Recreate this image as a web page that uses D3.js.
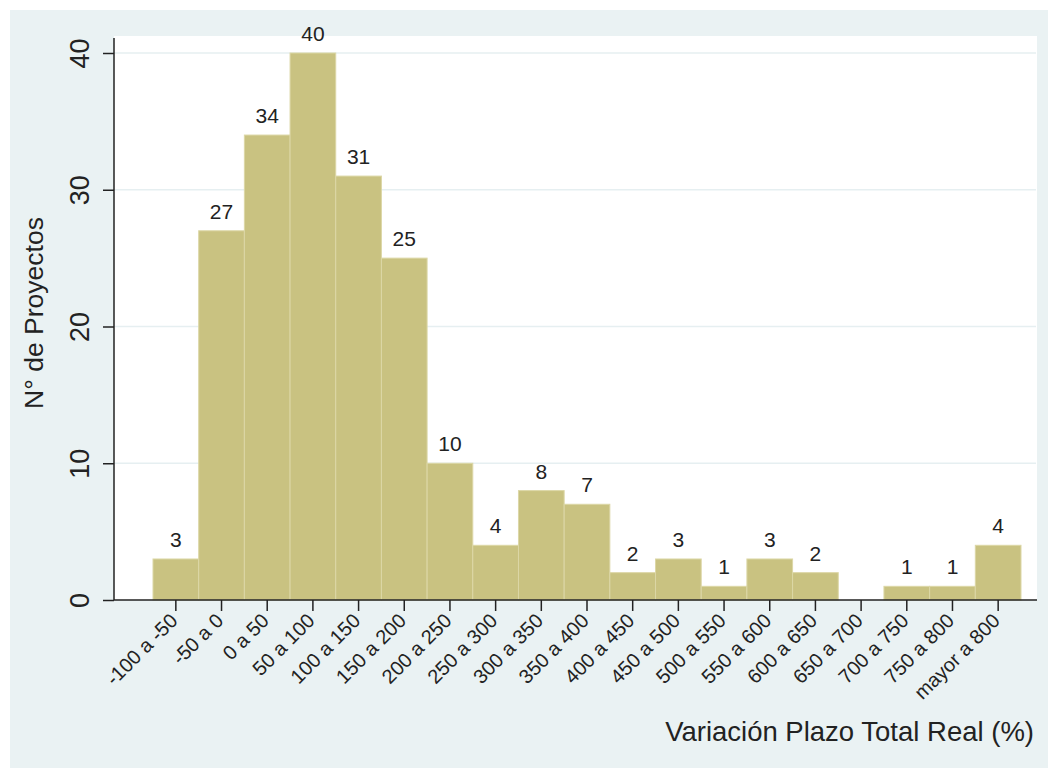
<!DOCTYPE html>
<html>
<head>
<meta charset="utf-8">
<script src="https://cdn.jsdelivr.net/npm/d3@7"></script>
<style>
  body { margin: 0; background: #ffffff; }
  text { font-family: "Liberation Sans", Arial, sans-serif; fill: #222; }
</style>
</head>
<body>
<div id="container"></div>
<script>
// data
const categories = ["-100 a -50", "-50 a 0", "0 a 50", "50 a 100", "100 a 150", "150 a 200",
                    "200 a 250", "250 a 300", "300 a 350", "350 a 400", "400 a 450", "450 a 500",
                    "500 a 550", "550 a 600", "600 a 650", "650 a 700", "700 a 750", "750 a 800",
                    "mayor a 800"];
const counts = [3, 27, 34, 40, 31, 25, 10, 4, 8, 7, 2, 3, 1, 3, 2, 0, 1, 1, 4];
const yTicks = [0, 10, 20, 30, 40];

const dataset = categories.map((c, i) => ({ cat: c, n: counts[i] }));

// set dimensions
const w = 1048;
const h = 768;
const plot = { left: 114, right: 1037, top: 36, bottom: 600 };

const svg = d3.select("#container")
              .append("svg")
              .attr("width", w)
              .attr("height", h);

// outer background
svg.append("rect")
   .attr("x", 10)
   .attr("y", 10)
   .attr("width", w - 10)
   .attr("height", h - 10)
   .attr("fill", "#eaf2f3");

// plot region
svg.append("rect")
   .attr("x", plot.left)
   .attr("y", plot.top)
   .attr("width", plot.right - plot.left)
   .attr("height", plot.bottom - plot.top)
   .attr("fill", "#ffffff");

// scales
const xScale = d3.scaleBand()
                 .domain(categories)
                 .range([153, 1021])
                 .padding(0);
const yScale = d3.scaleLinear()
                 .domain([0, 40])
                 .range([plot.bottom, 53]);

// gridlines
svg.selectAll("line.grid")
   .data(yTicks.filter(d => d > 0))
   .enter()
   .append("line")
   .attr("class", "grid")
   .attr("x1", plot.left)
   .attr("x2", plot.right - 1)
   .attr("y1", d => yScale(d))
   .attr("y2", d => yScale(d))
   .attr("stroke", "#e6eff1")
   .attr("stroke-width", 1.5);

// bars
svg.selectAll("rect.bar")
   .data(dataset)
   .enter()
   .append("rect")
   .attr("class", "bar")
   .attr("x", d => xScale(d.cat))
   .attr("y", d => yScale(d.n))
   .attr("width", xScale.bandwidth())
   .attr("height", d => yScale(0) - yScale(d.n))
   .attr("fill", "#c9c281")
   .attr("stroke", "#dcd7a6")
   .attr("stroke-width", 1);

// bar labels
svg.selectAll("text.count")
   .data(dataset.filter(d => d.n > 0))
   .enter()
   .append("text")
   .attr("class", "count")
   .attr("x", d => xScale(d.cat) + xScale.bandwidth() / 2)
   .attr("y", d => yScale(d.n) - 12)
   .attr("text-anchor", "middle")
   .style("font-size", "21px")
   .text(d => d.n);

// axes
const xAxis = d3.axisBottom(xScale).tickSize(11).tickSizeOuter(0);
const yAxis = d3.axisLeft(yScale).tickValues(yTicks).tickSize(11).tickSizeOuter(0);

const gx = svg.append("g")
              .attr("transform", "translate(0, " + plot.bottom + ")")
              .call(xAxis);
gx.select(".domain").remove();
gx.selectAll(".tick line").attr("stroke", "#222").attr("stroke-width", 1.5);
gx.selectAll(".tick text")
  .attr("y", null)
  .attr("dy", null)
  .attr("transform", "translate(3, 22) rotate(-45)")
  .attr("text-anchor", "end")
  .attr("fill", "#222")
  .style("font-size", "20px")
  .style("font-family", "'Liberation Sans', Arial, sans-serif");

const gy = svg.append("g")
              .attr("transform", "translate(" + plot.left + ", 0)")
              .call(yAxis);
gy.select(".domain").remove();
gy.selectAll(".tick line").attr("stroke", "#222").attr("stroke-width", 1.5);
gy.selectAll(".tick text")
  .attr("x", null)
  .attr("dy", null)
  .attr("transform", "translate(-25, 0) rotate(-90)")
  .attr("text-anchor", "middle")
  .attr("fill", "#222")
  .style("font-size", "27px")
  .style("font-family", "'Liberation Sans', Arial, sans-serif");

// axis lines
svg.append("line")
   .attr("x1", plot.left).attr("x2", plot.left)
   .attr("y1", 38).attr("y2", plot.bottom)
   .attr("stroke", "#222").attr("stroke-width", 1.5);
svg.append("line")
   .attr("x1", plot.left).attr("x2", plot.right)
   .attr("y1", plot.bottom).attr("y2", plot.bottom)
   .attr("stroke", "#222").attr("stroke-width", 1.5);

// y-axis label
svg.append("text")
   .attr("transform", "translate(43, 313) rotate(-90)")
   .attr("text-anchor", "middle")
   .style("font-size", "26.5px")
   .text("N° de Proyectos");

// x-axis label
svg.append("text")
   .attr("x", 1034)
   .attr("y", 741)
   .attr("text-anchor", "end")
   .style("font-size", "27.5px")
   .text("Variación Plazo Total Real (%)");
</script>
</body>
</html>
